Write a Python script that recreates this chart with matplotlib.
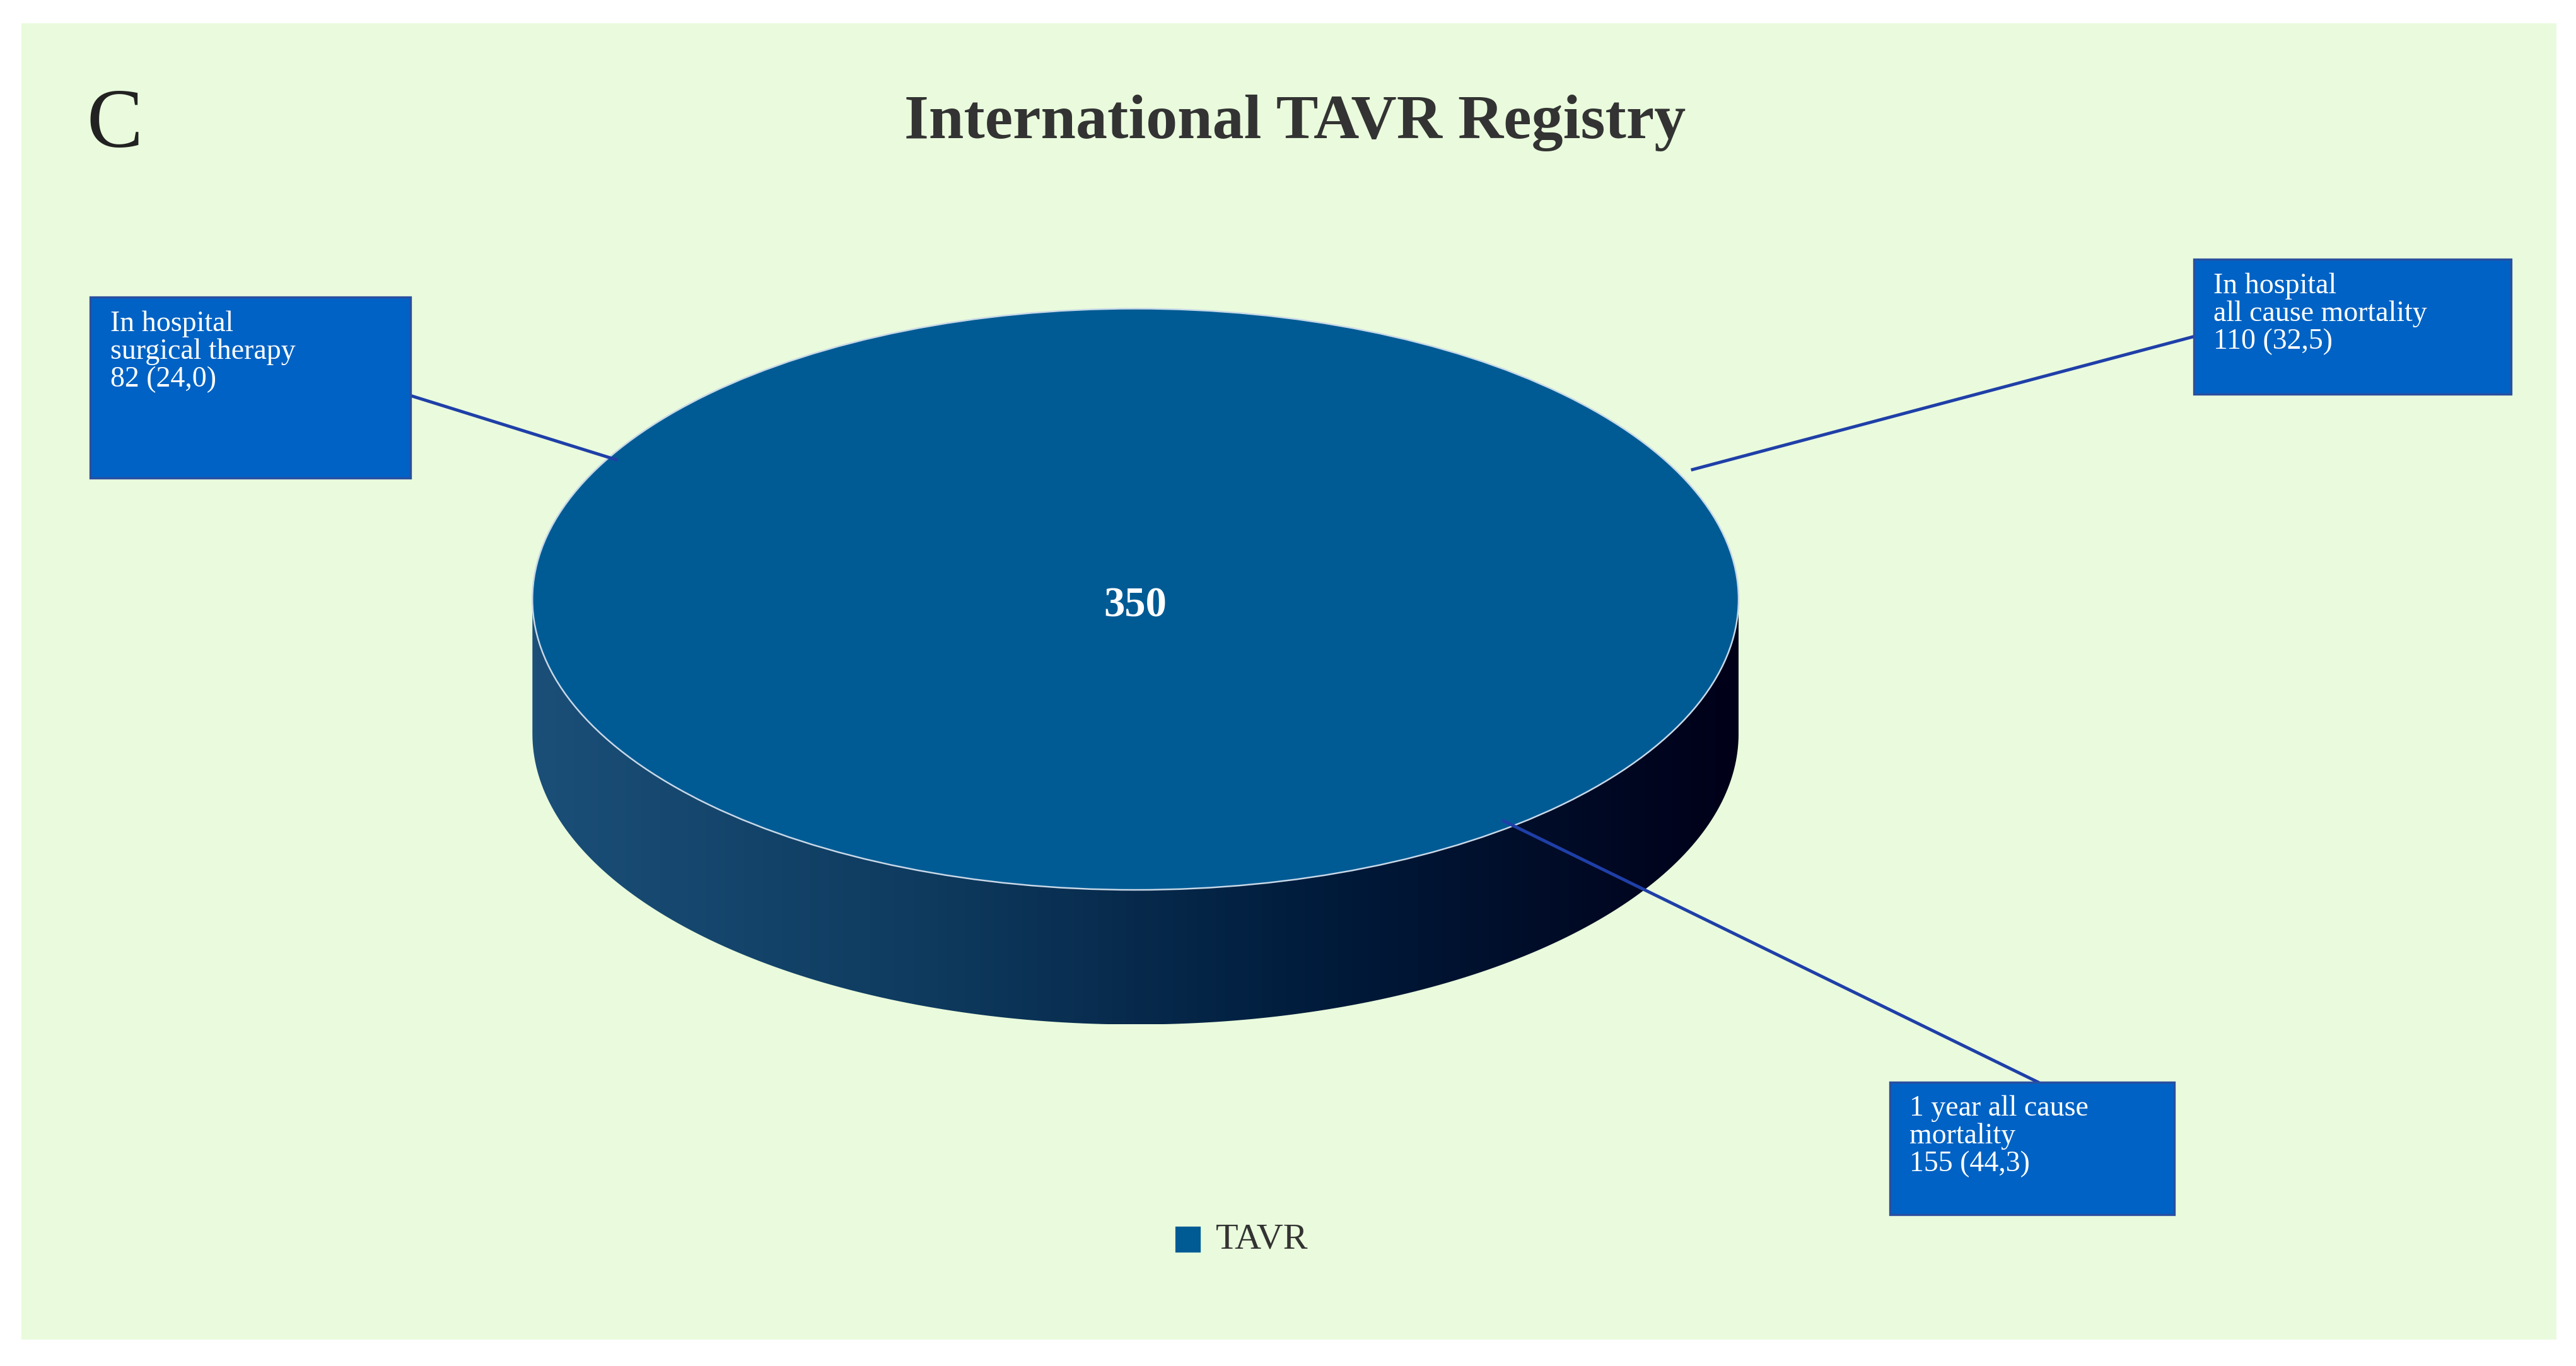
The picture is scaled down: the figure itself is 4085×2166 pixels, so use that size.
import numpy as np
import matplotlib
matplotlib.use("Agg")
import matplotlib.pyplot as plt
from matplotlib.patches import Ellipse, Rectangle, PathPatch
from matplotlib.path import Path

title = "International TAVR Registry"
panel = "C"
total = 350
series_name = "TAVR"
labels = ["In hospital\nsurgical therapy\n82 (24,0)",
          "In hospital\nall cause mortality\n110 (32,5)",
          "1 year all cause\nmortality\n155 (44,3)"]

W, H = 1568, 832
fig = plt.figure(figsize=(4086/300, 2166/300), dpi=300)
ax = fig.add_axes([0, 0, 1, 1])
ax.set_xlim(0, W); ax.set_ylim(H, 0); ax.axis("off")
serif = ["Liberation Serif", "DejaVu Serif"]

ax.add_patch(Rectangle((14, 15), 1541, 800, color="#e9fbdc", zorder=0))
ax.text(788, 75, title, ha="center", va="center", fontsize=24, fontweight="bold",
        family=serif, color="#333333")
ax.text(70, 77, panel, ha="center", va="center", fontsize=32, family=serif, color="#222222")

cx, cy, a, b, d = 691, 365, 367, 177, 82
t = np.linspace(np.pi, 0, 200)
top = np.c_[cx + a*np.cos(t), cy + b*np.sin(t)]
bot = np.c_[cx + a*np.cos(t[::-1]), cy + d + b*np.sin(t[::-1])]
verts = np.vstack([top, bot, top[:1]])
side = PathPatch(Path(verts), facecolor="none", edgecolor="none")
ax.add_patch(side)
grad = np.linspace(0, 1, 256)[None, :]
cmap = matplotlib.colors.LinearSegmentedColormap.from_list(
    "s", ["#1b4f78", "#0e3a5e", "#001a3a", "#000018"])
im = ax.imshow(grad, cmap=cmap, extent=[cx-a, cx+a, cy+b+d, cy], aspect="auto", zorder=1)
im.set_clip_path(side)
ax.add_patch(Ellipse((cx, cy), 2*a, 2*b, facecolor="#005b94", edgecolor="#c8d8e8",
                     lw=0.6, zorder=2))
ax.text(cx, cy + 4, str(total), ha="center", va="center", fontsize=16, fontweight="bold",
        family=serif, color="white", zorder=3)

boxes = [(55, 181, 195, 110), (1335, 158, 193, 82), (1150, 659, 173, 81)]
lines = [((250, 241), (375, 280)), ((1335, 205), (1030, 286)), ((1240, 659), (915, 500))]
for (x, y, w, h), lab, (p, q) in zip(boxes, labels, lines):
    ax.plot([p[0], q[0]], [p[1], q[1]], color="#1f3fa8", lw=1.2, zorder=4)
    ax.add_patch(Rectangle((x, y), w, h, facecolor="#0062c4", edgecolor="#2a4fa0",
                           lw=0.8, zorder=5))
    ax.text(x + 12, y + 8, lab, ha="left", va="top", fontsize=11, family=serif,
            color="white", linespacing=1.05, zorder=6)

ax.add_patch(Rectangle((716, 748), 14, 14, color="#005b94", zorder=3))
ax.text(740, 755, series_name, ha="left", va="center", fontsize=14, family=serif,
        color="#333333")
fig.savefig("out.png", dpi=300, facecolor="white")
